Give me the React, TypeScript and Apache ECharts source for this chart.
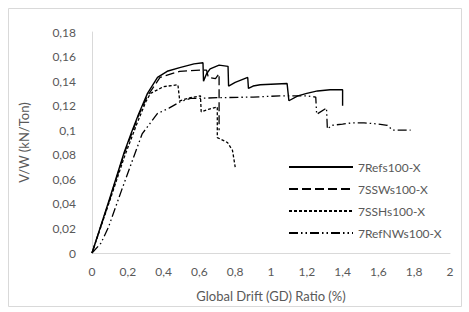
import React, { useEffect, useRef } from "react";
import * as echarts from "echarts";

const seriesNames = ["7Refs100-X", "7SSWs100-X", "7SSHs100-X", "7RefNWs100-X"];

const refsX = [0, 0.1, 0.18, 0.22, 0.26, 0.31, 0.366, 0.42, 0.49, 0.57, 0.62, 0.623, 0.64, 0.66, 0.71, 0.76, 0.763, 0.8, 0.87, 0.874, 0.9, 0.94, 1.0, 1.09, 1.1, 1.15, 1.2, 1.26, 1.33, 1.4, 1.4];
const refsY = [0, 0.045, 0.082, 0.098, 0.113, 0.13, 0.143, 0.148, 0.151, 0.154, 0.155, 0.14, 0.146, 0.15, 0.153, 0.152, 0.136, 0.139, 0.143, 0.134, 0.136, 0.137, 0.1375, 0.138, 0.124, 0.128, 0.13, 0.132, 0.133, 0.133, 0.12];

const sswX = [0, 0.1, 0.18, 0.26, 0.31, 0.38, 0.49, 0.62, 0.64, 0.65, 0.69, 0.71, 0.71];
const sswY = [0, 0.044, 0.081, 0.112, 0.128, 0.143, 0.148, 0.149, 0.149, 0.143, 0.142, 0.146, 0.1];

const sshX = [0, 0.1, 0.18, 0.25, 0.3, 0.327, 0.4, 0.48, 0.49, 0.55, 0.606, 0.61, 0.65, 0.7, 0.7, 0.757, 0.785, 0.8];
const sshY = [0, 0.043, 0.078, 0.105, 0.123, 0.13, 0.1355, 0.137, 0.124, 0.1265, 0.128, 0.115, 0.117, 0.119, 0.094, 0.09, 0.0835, 0.07];

const nwX = [0, 0.05, 0.092, 0.165, 0.28, 0.365, 0.43, 0.49, 0.55, 0.6, 0.7, 0.9, 1.05, 1.2, 1.25, 1.255, 1.31, 1.315, 1.34, 1.4, 1.45, 1.52, 1.6, 1.65, 1.68, 1.78];
const nwY = [0, 0.008, 0.021, 0.051, 0.097, 0.1135, 0.118, 0.123, 0.126, 0.126, 0.1265, 0.127, 0.128, 0.128, 0.127, 0.113, 0.118, 0.101, 0.104, 0.105, 0.106, 0.106, 0.105, 0.104, 0.1, 0.1];

const xTicksMax = 2;
const yTicksMax = 0.18;

const zip = (xs: number[], ys: number[]) => xs.map((x, i) => [x, ys[i]]);

const fmt = (v: number) => String(+v.toFixed(2)).replace(".", ",");

const FONT = "Lato, 'Open Sans', sans-serif";
const TXT = "#595959";

export default function App() {
  const ref = useRef<HTMLDivElement>(null);
  useEffect(() => {
    if (!ref.current) return;
    const chart = echarts.init(ref.current, undefined, { renderer: "svg" });
    const dashes: any[] = ["solid", [9, 4], [3, 2], [9, 3, 1.5, 3, 1.5, 3]];
    const datas = [zip(refsX, refsY), zip(sswX, sswY), zip(sshX, sshY), zip(nwX, nwY)];
    chart.setOption({
      animation: false,
      backgroundColor: "#fff",
      textStyle: { fontFamily: FONT },
      graphic: [
        {
          type: "rect",
          shape: { x: 8.5, y: 8.5, width: 453, height: 298 },
          style: { fill: "none", stroke: "#d9d9d9", lineWidth: 1 },
          silent: true,
        },
      ],
      grid: { left: 92, right: 19, top: 32, bottom: 59 },
      legend: {
        orient: "vertical",
        left: 288,
        top: 161,
        padding: 0,
        itemWidth: 64,
        itemHeight: 14,
        itemGap: 10,
        itemStyle: { opacity: 0 },
        textStyle: { color: TXT, fontSize: 12, fontFamily: FONT },
        data: seriesNames,
      },
      xAxis: {
        type: "value",
        min: 0,
        max: xTicksMax,
        interval: 0.2,
        name: "Global Drift (GD) Ratio (%)",
        nameLocation: "middle",
        nameGap: 36,
        nameTextStyle: { color: TXT, fontSize: 13, fontFamily: FONT },
        axisLine: { show: true, lineStyle: { color: "#d9d9d9", width: 1 } },
        axisTick: { show: false },
        splitLine: { show: false },
        axisLabel: { color: TXT, fontSize: 12, margin: 12, formatter: fmt, fontFamily: FONT },
      },
      yAxis: {
        type: "value",
        min: 0,
        max: yTicksMax,
        interval: 0.02,
        name: "V/W (kN/Ton)",
        nameLocation: "middle",
        nameGap: 62,
        nameTextStyle: { color: TXT, fontSize: 13, fontFamily: FONT },
        axisLine: { show: true, lineStyle: { color: "#d9d9d9", width: 1 } },
        axisTick: { show: false },
        splitLine: { show: false },
        axisLabel: { color: TXT, fontSize: 12, margin: 16, formatter: fmt, fontFamily: FONT },
      },
      series: seriesNames.map((n, i) => ({
        name: n,
        type: "line",
        data: datas[i],
        symbol: "none",
        showSymbol: false,
        smooth: false,
        color: "#000",
        lineStyle: { color: "#000", width: i === 0 ? 1.4 : 1.3, type: dashes[i] },
      })),
    });
    return () => chart.dispose();
  }, []);
  return (
    <div
      ref={ref}
      style={{ position: "fixed", left: 0, top: 0, width: 469, height: 312 }}
    />
  );
}
